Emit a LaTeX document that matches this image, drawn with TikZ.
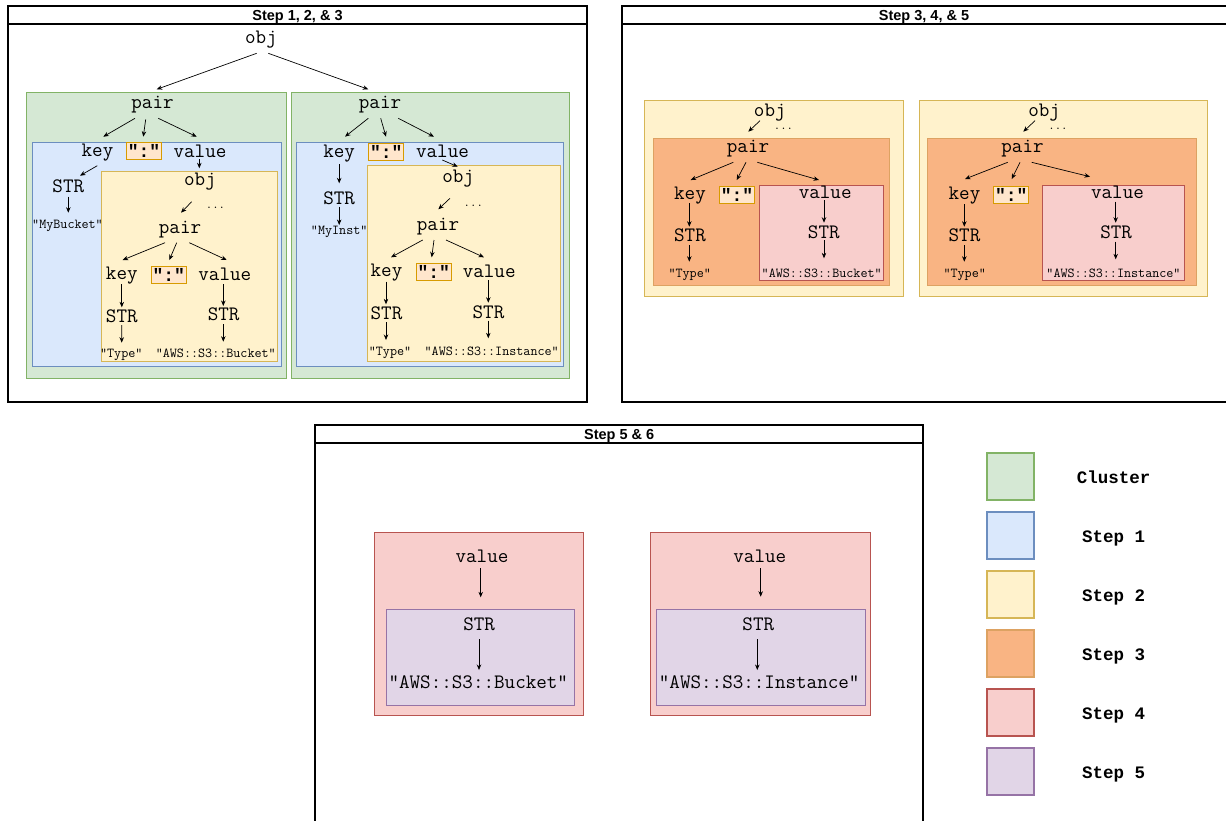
\documentclass[tikz,border=0pt]{standalone}
\usepackage{fontspec}
\newfontfamily\boldmono{Liberation Mono}
\newfontfamily\headfont{Liberation Sans}
\usetikzlibrary{arrows.meta,fit}

\definecolor{clusterF}{HTML}{D5E8D4}\definecolor{clusterS}{HTML}{82B366}
\definecolor{stepAF}{HTML}{DAE8FC}\definecolor{stepAS}{HTML}{6C8EBF}
\definecolor{stepBF}{HTML}{FFF2CC}\definecolor{stepBS}{HTML}{D6B656}
\definecolor{stepCF}{HTML}{F9B483}\definecolor{stepCS}{HTML}{DDA262}
\definecolor{stepDF}{HTML}{F8CECC}\definecolor{stepDS}{HTML}{B85450}
\definecolor{stepEF}{HTML}{E1D5E7}\definecolor{stepES}{HTML}{9673A6}
\definecolor{colonF}{HTML}{FFE6CC}\definecolor{colonS}{HTML}{D79B00}

% arrow between two named nodes, each end shifted from the given anchor
\newcommand\linkarrow[4]{\draw[arr] ([shift={#2}]#1) -- ([shift={#4}]#3);}

\begin{document}
\begin{tikzpicture}[x=1pt,y=-1pt,
  lab/.style={font=\ttfamily\fontsize{20.5}{22}\selectfont, inner sep=0pt, anchor=base},
  tiny/.style={font=\ttfamily\fontsize{13.7}{15}\selectfont, inner sep=0pt, anchor=base},
  dots/.style={font=\ttfamily\fontsize{12.5}{13}\selectfont, inner sep=0pt, anchor=base},
  colon/.style={draw=colonS, fill=colonF, line width=0.8pt,
    font=\boldmono\bfseries\fontsize{18}{18}\selectfont,
    minimum width=35pt, minimum height=17pt, inner sep=0pt},
  legtext/.style={font=\boldmono\bfseries\fontsize{17.5}{18}\selectfont, inner sep=0pt, anchor=base},
  title/.style={font=\headfont\bfseries\fontsize{14.5}{15}\selectfont, inner sep=0pt, anchor=base},
  frame/.style={draw=black, line width=2pt, inner sep=0pt},
  arr/.style={-{Stealth[length=5.5pt,width=4.5pt]}, line width=0.7pt},
  cluster/.style={draw=clusterS, fill=clusterF, line width=0.8pt, inner sep=0pt},
  stepA/.style={draw=stepAS, fill=stepAF, line width=0.8pt, inner sep=0pt},
  stepB/.style={draw=stepBS, fill=stepBF, line width=0.8pt, inner sep=0pt},
  stepC/.style={draw=stepCS, fill=stepCF, line width=0.8pt, inner sep=0pt},
  stepD/.style={draw=stepDS, fill=stepDF, line width=0.8pt, inner sep=0pt},
  stepE/.style={draw=stepES, fill=stepEF, line width=0.8pt, inner sep=0pt},
  legbox/.style={line width=2pt, minimum size=46.5pt, inner sep=0pt}
]
\useasboundingbox (0,0) rectangle (1226,820);

% ---------------- panel frames ----------------
\node[frame, fit={(8,6) (586.5,402)}] (frameA) {};
\node[frame, fit={(8,6) (586.5,24)}] (barA) {};
\node[title] (titleA) at (297.5,20) {Step 1, 2, \& 3};

\node[frame, fit={(622,6) (1234,402)}] (frameB) {};
\node[frame, fit={(622,6) (1234,24)}] (barB) {};
\node[title] (titleB) at (924,20) {Step 3, 4, \& 5};

\node[frame, fit={(315,425) (923.3,832)}] (frameC) {};
\node[frame, fit={(315,425) (923.3,443.3)}] (barC) {};
\node[title] (titleC) at (619.2,439.5) {Step 5 \& 6};

% ---------------- panel 1: regions ----------------
\node[cluster, fit={(26,92) (286.7,378.3)}] (gL) {};
\node[cluster, fit={(291.7,92) (569.3,378.3)}] (gR) {};
\node[stepA, fit={(32.3,142.3) (281,366.7)}] (bL) {};
\node[stepA, fit={(296.7,142.7) (563.3,366.7)}] (bR) {};
\node[stepB, fit={(101.7,171.7) (277.7,361.7)}] (yL) {};
\node[stepB, fit={(367.3,165.7) (560.7,361.7)}] (yR) {};

% ---------------- panel 1: left tree ----------------
\node[lab] (o0) at (261,43.5) {obj};
\node[lab] (pL) at (152.5,108.5) {pair};
\node[lab] (kL) at (97.5,156.5) {key};
\node[colon] (cL) at (144,151.3) {":"};
\node[lab] (vL) at (200,157) {value};
\node[lab] (sL) at (68.3,192.7) {STR};
\node[tiny] (mB) at (67.5,228.5) {"MyBucket"};
\node[lab] (oL) at (200,185) {obj};
\node[dots] (dL) at (215.5,208) {...};
\node[lab] (ppL) at (180,233) {pair};
\node[lab] (kkL) at (121.8,279.5) {key};
\node[colon] (ccL) at (168.8,275.2) {":"};
\node[lab] (vvL) at (224.8,280) {value};
\node[lab] (skL) at (121.8,322.7) {STR};
\node[lab] (svL) at (223.7,320.7) {STR};
\node[tiny] (tL) at (121.3,357) {"Type"};
\node[tiny] (aL) at (215.8,357) {"AWS::S3::Bucket"};

% ---------------- panel 1: right tree ----------------
\node[lab] (pR) at (380,108.5) {pair};
\node[lab] (kR) at (339.2,157) {key};
\node[colon] (cR) at (386.3,151.7) {":"};
\node[lab] (vR) at (442.5,157) {value};
\node[lab] (sR) at (339.2,204) {STR};
\node[tiny] (mI) at (339.2,234.5) {"MyInst"};
\node[lab] (oR) at (458.2,182) {obj};
\node[dots] (dR) at (473.3,206) {...};
\node[lab] (ppR) at (438,230) {pair};
\node[lab] (kkR) at (386.5,276.5) {key};
\node[colon] (ccR) at (433.7,272.2) {":"};
\node[lab] (vvR) at (489.2,277) {value};
\node[lab] (skR) at (386.5,319.3) {STR};
\node[lab] (svR) at (488.5,318.3) {STR};
\node[tiny] (tR) at (390,355) {"Type"};
\node[tiny] (aR) at (491.7,355) {"AWS::S3::Instance"};

% panel 1 connectors
\linkarrow{o0.base}{(-4.3,9.8)}{pL.base}{(4.2,-19.2)}
\linkarrow{o0.base}{(7.3,9.8)}{pR.base}{(-11.7,-19.2)}
\linkarrow{pL.base}{(-17.5,9.8)}{kL.base}{(5.8,-19.8)}
\linkarrow{pL.base}{(-6.8,10.8)}{cL.center}{(-0.7,-14.6)}
\linkarrow{pL.base}{(5.8,9.8)}{vL.base}{(-3.3,-20.3)}
\linkarrow{kL.base}{(-0.2,9.2)}{sL.base}{(11.7,-17)}
\linkarrow{sL.base}{(0,4)}{mB.base}{(0.8,-15.8)}
\linkarrow{vL.base}{(-0.7,2.3)}{oL.base}{(-0.7,-16.7)}
\linkarrow{oL.base}{(-8.3,16.7)}{ppL.base}{(1,-20.3)}
\linkarrow{ppL.base}{(-15,9.7)}{kkL.base}{(0.9,-19.5)}
\linkarrow{ppL.base}{(-3.3,9.7)}{ccL.center}{(0.5,-15.2)}
\linkarrow{ppL.base}{(9.3,9.7)}{vvL.base}{(1.9,-20)}
\linkarrow{kkL.base}{(0,4.8)}{skL.base}{(0,-15.4)}
\linkarrow{skL.base}{(0,2.3)}{tL.base}{(0.4,-14.3)}
\linkarrow{vvL.base}{(-1.5,4.3)}{svL.base}{(-0.4,-14.7)}
\linkarrow{svL.base}{(-0.4,3.3)}{aL.base}{(7.5,-15.3)}

\linkarrow{pR.base}{(-11.7,9.8)}{kR.base}{(5.8,-20.3)}
\linkarrow{pR.base}{(0.7,9.8)}{cR.center}{(-0.3,-15)}
\linkarrow{pR.base}{(18.3,9.8)}{vR.base}{(-8.5,-20.3)}
\linkarrow{kR.base}{(0,7.3)}{sR.base}{(0,-20.7)}
\linkarrow{sR.base}{(0,2.7)}{mI.base}{(0,-9.5)}
\linkarrow{vR.base}{(-0.2,3)}{oR.base}{(-0.5,-15.3)}
\linkarrow{oR.base}{(-8.2,16.3)}{ppR.base}{(0.3,-20.7)}
\linkarrow{ppR.base}{(-15.3,10)}{kkR.base}{(4.5,-19.2)}
\linkarrow{ppR.base}{(-4,10)}{ccR.center}{(-2,-14.9)}
\linkarrow{ppR.base}{(8,10)}{vvR.base}{(-5.2,-19.7)}
\linkarrow{kkR.base}{(-0.5,5.2)}{skR.base}{(-0.5,-15)}
\linkarrow{skR.base}{(-0.5,3)}{tR.base}{(-4,-15)}
\linkarrow{vvR.base}{(-0.9,3)}{svR.base}{(-0.2,-15.6)}
\linkarrow{svR.base}{(-0.2,2.4)}{aR.base}{(-3.4,-16.7)}

% ---------------- panel 2 ----------------
\node[stepB, fit={(644,100) (903.3,296)}] (y2L) {};
\node[stepB, fit={(919,100) (1207.7,296)}] (y2R) {};
\node[stepC, fit={(653.3,138.3) (889.3,285.7)}] (o2L) {};
\node[stepC, fit={(927.3,138.3) (1196,285.7)}] (o2R) {};
\node[stepD, fit={(759.3,185) (883.3,280)}] (r2L) {};
\node[stepD, fit={(1042.7,185) (1184.3,280)}] (r2R) {};

\node[lab] (qA) at (769.8,116) {obj};
\node[dots] (qAd) at (783.5,129) {...};
\node[lab] (qAp) at (748,152.5) {pair};
\node[lab] (qAk) at (690,199) {key};
\node[colon] (qAc) at (737,194.5) {":"};
\node[lab] (qAv) at (825.2,198.5) {value};
\node[lab] (qAks) at (690,241.7) {STR};
\node[tiny] (qAt) at (689.7,277) {"Type"};
\node[lab] (qAvs) at (823.8,238.3) {STR};
\node[tiny] (qAa) at (821.7,277) {"AWS::S3::Bucket"};

\node[lab] (qB) at (1044.2,116) {obj};
\node[dots] (qBd) at (1058,129) {...};
\node[lab] (qBp) at (1022.5,152.5) {pair};
\node[lab] (qBk) at (964.5,199) {key};
\node[colon] (qBc) at (1011.3,194.5) {":"};
\node[lab] (qBv) at (1117.5,198.5) {value};
\node[lab] (qBks) at (964.5,241.7) {STR};
\node[tiny] (qBt) at (964.7,277) {"Type"};
\node[lab] (qBvs) at (1116.2,238.3) {STR};
\node[tiny] (qBa) at (1113.5,277) {"AWS::S3::Instance"};

\linkarrow{qA.base}{(-9.8,4.7)}{qAp.base}{(0.3,-20.8)}
\linkarrow{qAp.base}{(-14.7,9.8)}{qAk.base}{(0.7,-19)}
\linkarrow{qAp.base}{(-2,9.8)}{qAc.center}{(-0.3,-14.5)}
\linkarrow{qAp.base}{(9.3,9.8)}{qAv.base}{(-6.2,-18.5)}
\linkarrow{qAk.base}{(-0.7,4.3)}{qAks.base}{(-0.7,-15)}
\linkarrow{qAks.base}{(-0.7,3.3)}{qAt.base}{(-0.4,-15.3)}
\linkarrow{qAv.base}{(-1.2,1.5)}{qAvs.base}{(0.2,-15.6)}
\linkarrow{qAvs.base}{(0.2,1.7)}{qAa.base}{(2.3,-18.7)}

\linkarrow{qB.base}{(-9.2,4.7)}{qBp.base}{(0.8,-20.8)}
\linkarrow{qBp.base}{(-14.8,9.8)}{qBk.base}{(0.5,-20)}
\linkarrow{qBp.base}{(-2.5,9.8)}{qBc.center}{(0.4,-15.5)}
\linkarrow{qBp.base}{(9.2,9.8)}{qBv.base}{(-27.5,-21.8)}
\linkarrow{qBk.base}{(-0.2,5)}{qBks.base}{(-0.2,-15)}
\linkarrow{qBks.base}{(-0.2,3.3)}{qBt.base}{(-0.4,-15.3)}
\linkarrow{qBv.base}{(-1.8,3.2)}{qBvs.base}{(-0.5,-15.6)}
\linkarrow{qBvs.base}{(-0.5,3.4)}{qBa.base}{(2.2,-17.7)}

% ---------------- panel 3 ----------------
\node[stepD, fit={(374.3,532.3) (583.3,715.7)}] (r3L) {};
\node[stepE, fit={(386,609.3) (574.3,705.7)}] (u3L) {};
\node[stepD, fit={(650.7,532.3) (870.7,715.7)}] (r3R) {};
\node[stepE, fit={(656,609.3) (865,705.7)}] (u3R) {};

\node[lab] (wAv) at (482,562.7) {value};
\node[lab] (wAs) at (479.2,630.7) {STR};
\node[lab] (wAa) at (478.3,688) {"AWS::S3::Bucket"};
\node[lab] (wBv) at (759.8,562.7) {value};
\node[lab] (wBs) at (758.3,630.7) {STR};
\node[lab] (wBa) at (759.2,688) {"AWS::S3::Instance"};

\linkarrow{wAv.base}{(-1.3,5.6)}{wAs.base}{(1.5,-33.4)}
\linkarrow{wAs.base}{(-0.2,8.6)}{wAa.base}{(0.7,-18)}
\linkarrow{wBv.base}{(0.9,5.6)}{wBs.base}{(2.4,-34)}
\linkarrow{wBs.base}{(-1,8.6)}{wBa.base}{(-1.9,-18)}

% ---------------- legend ----------------
\node[legbox, draw=clusterS, fill=clusterF] (lgA) at (1010.5,476.5) {};
\node[legbox, draw=stepAS, fill=stepAF] (lgB) at (1010.5,535.5) {};
\node[legbox, draw=stepBS, fill=stepBF] (lgC) at (1010.5,594.5) {};
\node[legbox, draw=stepCS, fill=stepCF] (lgD) at (1010.5,653.5) {};
\node[legbox, draw=stepDS, fill=stepDF] (lgE) at (1010.5,712.5) {};
\node[legbox, draw=stepES, fill=stepEF] (lgF) at (1010.5,771.5) {};

\node[legtext] (ltA) at (1113.5,483) {Cluster};
\node[legtext] (ltB) at (1113.5,542.5) {Step 1};
\node[legtext] (ltC) at (1113.5,601.5) {Step 2};
\node[legtext] (ltD) at (1113.5,660.5) {Step 3};
\node[legtext] (ltE) at (1113.5,719.5) {Step 4};
\node[legtext] (ltF) at (1113.5,778.5) {Step 5};
\end{tikzpicture}
\end{document}
